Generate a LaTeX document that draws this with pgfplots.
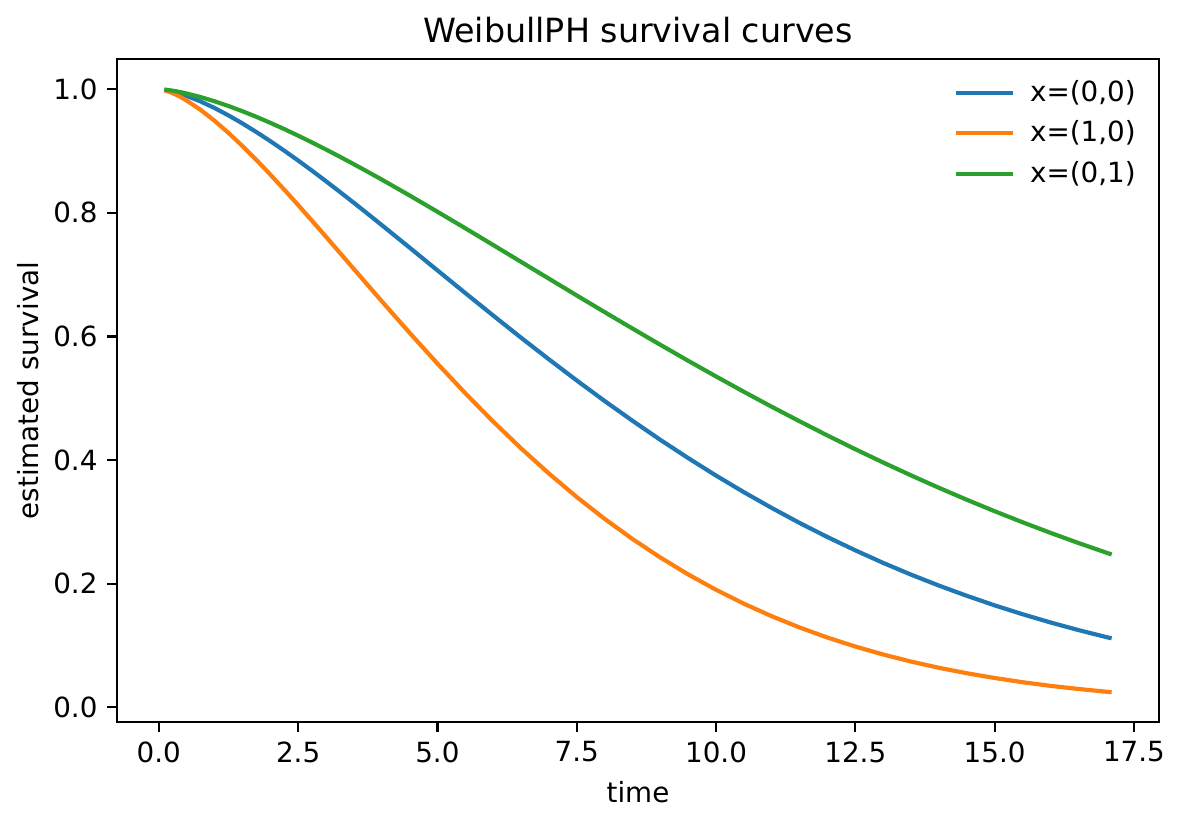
\documentclass[border=0pt]{standalone}
\usepackage{pgfplots}
\pgfplotsset{compat=1.18}
\usepackage{fontspec}
\setmainfont{DejaVu Sans}
\definecolor{c0}{HTML}{1F77B4}
\definecolor{c1}{HTML}{FF7F0E}
\definecolor{c2}{HTML}{2CA02C}
\begin{document}
\begin{tikzpicture}
\begin{axis}[
  scale only axis,
  width=375.12pt, height=238.68pt,
  xmin=-0.75, xmax=17.95, ymin=-0.0238, ymax=1.0488,
  axis line style={line width=0.8pt},
  tick style={line width=0.8pt, black},
  tick align=outside, major tick length=3.5pt,
  xtick={0,2.5,...,17.5}, ytick={0,0.2,...,1.0},
  xtick pos=bottom, ytick pos=left,
  /pgf/number format/assume math mode=true,
  xticklabel={\pgfmathprintnumber[fixed,fixed zerofill,precision=1]{\tick}},
  yticklabel={\pgfmathprintnumber[fixed,fixed zerofill,precision=1]{\tick}},
  ticklabel style={font=\fontsize{10}{12}\selectfont},
  xlabel={time}, ylabel={estimated survival},
  label style={font=\fontsize{10}{12}\selectfont},
  ylabel style={yshift=-1.8pt},
  title={WeibullPH survival curves},
  title style={at={(0.5,1)}, anchor=base, yshift=0pt, font=\fontsize{12}{14}\selectfont},
  legend style={draw=none, fill=none, at={(0.9915,0.9855)}, anchor=north east,
    font=\fontsize{10}{12}\selectfont, row sep=1.5pt},
  legend cell align=left,
  legend image code/.code={\draw[#1] (0pt,0pt) -- (20.5pt,0pt); \path (24pt,0pt);},
  every axis plot/.append style={line width=1.5pt},
]
\coordinate (bl) at (rel axis cs:0,0);
\coordinate (tr) at (rel axis cs:1,1);
\addplot[c0] coordinates {
(0.1,0.9990)(0.2,0.9972)(0.3,0.9949)(0.4,0.9922)(0.5,0.9891)(0.75,0.9801)(1,0.9695)(1.25,0.9576)(1.5,0.9446)(1.75,0.9307)(2,0.9160)(2.25,0.9006)(2.5,0.8846)(2.75,0.8681)(3,0.8511)(3.25,0.8338)(3.5,0.8162)(3.75,0.7983)(4,0.7802)(4.5,0.7437)(5,0.7069)(5.5,0.6702)(6,0.6339)(6.5,0.5980)(7,0.5630)(7.5,0.5288)(8,0.4956)(8.5,0.4636)(9,0.4327)(9.5,0.4032)(10,0.3749)(10.5,0.3480)(11,0.3225)(11.5,0.2982)(12,0.2754)(12.5,0.2539)(13,0.2336)(13.5,0.2146)(14,0.1969)(14.5,0.1804)(15,0.1649)(15.5,0.1506)(16,0.1373)(16.5,0.1250)(17,0.1137)(17.1,0.1115)};
\addlegendentry{x=(0,0)}
\addplot[c1] coordinates {
(0.1,0.9983)(0.2,0.9953)(0.3,0.9914)(0.4,0.9868)(0.5,0.9816)(0.75,0.9665)(1,0.9489)(1.25,0.9293)(1.5,0.9081)(1.75,0.8856)(2,0.8620)(2.25,0.8376)(2.5,0.8126)(2.75,0.7871)(3,0.7613)(3.25,0.7352)(3.5,0.7091)(3.75,0.6830)(4,0.6571)(4.5,0.6059)(5,0.5561)(5.5,0.5081)(6,0.4623)(6.5,0.4190)(7,0.3783)(7.5,0.3402)(8,0.3049)(8.5,0.2723)(9,0.2424)(9.5,0.2150)(10,0.1901)(10.5,0.1676)(11,0.1473)(11.5,0.1291)(12,0.1128)(12.5,0.0983)(13,0.0854)(13.5,0.0740)(14,0.0639)(14.5,0.0551)(15,0.0474)(15.5,0.0406)(16,0.0347)(16.5,0.0297)(17,0.0252)(17.1,0.0244)};
\addlegendentry{x=(1,0)}
\addplot[c2] coordinates {
(0.1,0.9994)(0.2,0.9982)(0.3,0.9968)(0.4,0.9950)(0.5,0.9930)(0.75,0.9872)(1,0.9804)(1.25,0.9728)(1.5,0.9643)(1.75,0.9553)(2,0.9456)(2.25,0.9355)(2.5,0.9248)(2.75,0.9138)(3,0.9024)(3.25,0.8907)(3.5,0.8786)(3.75,0.8663)(4,0.8538)(4.5,0.8281)(5,0.8017)(5.5,0.7750)(6,0.7479)(6.5,0.7207)(7,0.6935)(7.5,0.6663)(8,0.6394)(8.5,0.6128)(9,0.5865)(9.5,0.5606)(10,0.5353)(10.5,0.5104)(11,0.4862)(11.5,0.4627)(12,0.4397)(12.5,0.4175)(13,0.3960)(13.5,0.3752)(14,0.3551)(14.5,0.3358)(15,0.3172)(15.5,0.2994)(16,0.2823)(16.5,0.2659)(17,0.2503)(17.1,0.2472)};
\addlegendentry{x=(0,1)}
\end{axis}
\pgfresetboundingbox
\path[use as bounding box] ([xshift=-42.12pt,yshift=-37.08pt]bl) rectangle ([xshift=7.92pt,yshift=21.24pt]tr);
\end{tikzpicture}
\end{document}
